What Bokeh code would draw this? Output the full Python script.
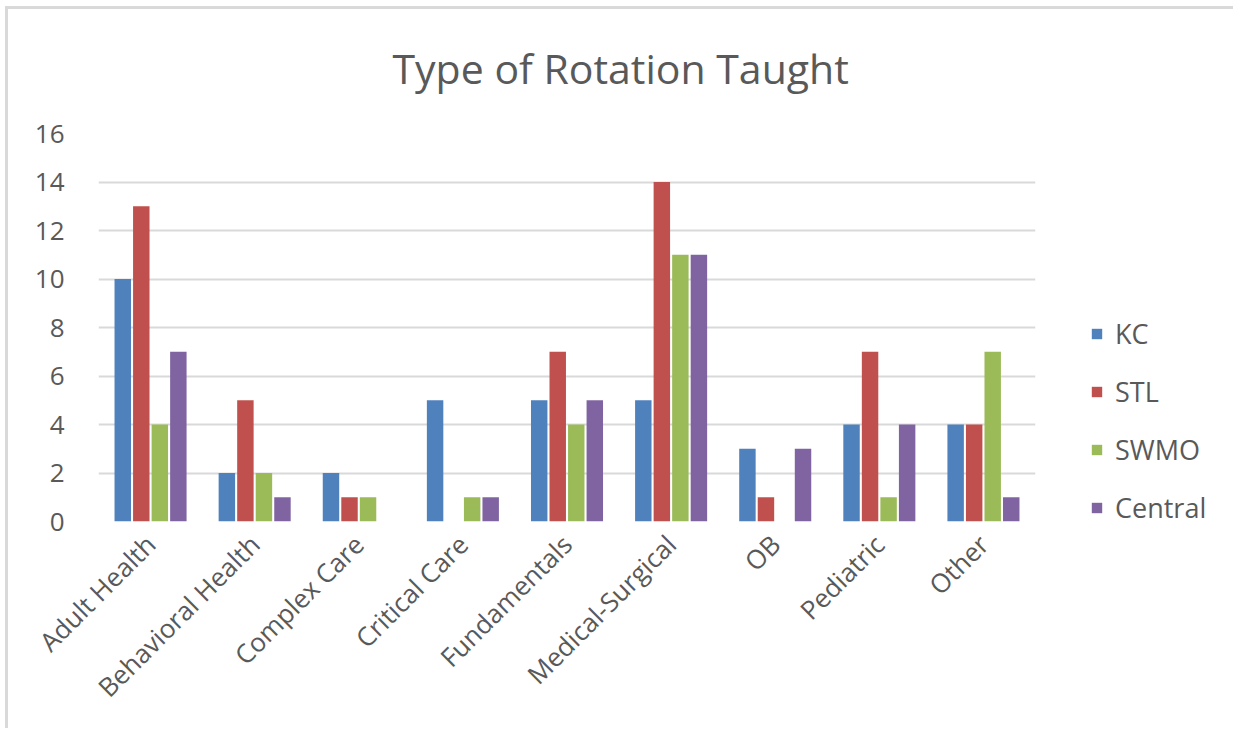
import math
from bokeh.plotting import figure
from bokeh.models import ColumnDataSource, FactorRange, Range1d, FixedTicker, Legend, LegendItem, Title
from bokeh.transform import dodge
from bokeh.embed import file_html
from bokeh.resources import INLINE

categories = ["Adult Health", "Behavioral Health", "Complex Care", "Critical Care",
              "Fundamentals", "Medical-Surgical", "OB", "Pediatric", "Other"]
series_names = ["KC", "STL", "SWMO", "Central"]
kc      = [10, 2, 2, 5, 5, 5, 3, 4, 4]
stl     = [13, 5, 1, 0, 7, 14, 1, 7, 4]
swmo    = [4, 2, 1, 1, 4, 11, 0, 1, 7]
central = [7, 1, 0, 1, 5, 11, 3, 4, 1]
y_ticks = [0, 2, 4, 6, 8, 10, 12, 14, 16]

colors = ["#4F81BD", "#C0504D", "#9BBB59", "#8064A2"]
FONT = "Open Sans"
TXT = "#595959"

source = ColumnDataSource(dict(cat=categories, KC=kc, STL=stl, SWMO=swmo, Central=central))

p = figure(x_range=FactorRange(*categories, range_padding=0), y_range=Range1d(0, 16),
           frame_width=937, frame_height=388, output_backend="svg", toolbar_location=None,
           min_border_left=98, min_border_right=182, min_border_top=133, min_border_bottom=207)
p.outline_line_color = None
p.background_fill_color = "white"
p.border_fill_alpha = 0
p.styles = {
    "background-color": "white",
    "background-image": "linear-gradient(#D9D9D9, #D9D9D9), linear-gradient(#D9D9D9, #D9D9D9)",
    "background-size": "100% 3px, 3px 100%",
    "background-position": "5px 6px, 5px 6px",
    "background-repeat": "no-repeat",
}

step = 0.178
bw = 0.158
renderers = []
for i, (name, col) in enumerate(zip(series_names, colors)):
    off = (i - 1.5) * step
    r = p.vbar(x=dodge("cat", off, range=p.x_range), top=name, width=bw, source=source,
               fill_color=col, line_color=None)
    renderers.append(r)

p.title = Title(text="Type of Rotation Taught", align="left", text_font=FONT,
                text_font_size="41px", text_font_style="normal", text_color=TXT,
                offset=294, standoff=75)

p.yaxis.ticker = FixedTicker(ticks=y_ticks)
p.yaxis.axis_line_color = None
p.yaxis.major_tick_line_color = None
p.yaxis.minor_tick_line_color = None
p.yaxis.major_label_text_font = FONT
p.yaxis.major_label_text_font_size = "26px"
p.yaxis.major_label_text_color = TXT
p.yaxis.major_label_standoff = 28

p.xaxis.axis_line_color = None
p.xaxis.major_tick_line_color = None
p.xaxis.major_label_orientation = math.pi / 4
p.xaxis.major_label_text_font = FONT
p.xaxis.major_label_text_font_size = "26px"
p.xaxis.major_label_text_color = TXT
p.xaxis.major_label_standoff = 12

p.xgrid.grid_line_color = None
p.ygrid.grid_line_color = "#D9D9D9"
p.ygrid.grid_line_width = 2

legend = Legend(items=[LegendItem(label=n, renderers=[r]) for n, r in zip(series_names, renderers)],
                location=(55, -5), border_line_color=None, background_fill_alpha=0,
                label_text_font=FONT, label_text_font_size="27px", label_text_color=TXT,
                glyph_width=13, glyph_height=13, label_height=20, spacing=21, padding=0, margin=0,
                label_standoff=12)
p.add_layout(legend, "right")

open("out.html", "w").write(file_html(p, INLINE))
